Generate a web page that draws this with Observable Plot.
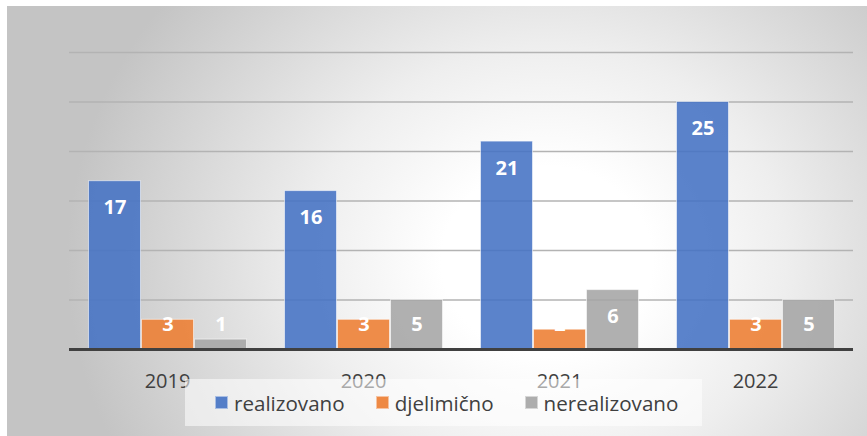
<!DOCTYPE html>
<html>
<head>
<meta charset="utf-8">
<script src="https://cdn.jsdelivr.net/npm/d3@7"></script>
<script src="https://cdn.jsdelivr.net/npm/@observablehq/plot@0.6"></script>
<style>
  html, body { margin: 0; padding: 0; background: #fff; }
  #wrap { position: relative; width: 867px; height: 436px; overflow: hidden; font-family: "Open Sans", sans-serif; }
  #panel { position: absolute; left: 7px; top: 6px; width: 860px; height: 430px;
    background: radial-gradient(ellipse 480px 430px at 540px 255px, #ffffff 0%, #ffffff 22%, #eeeeee 50%, #c4c4c4 100%); }
  #chart { position: absolute; left: 0; top: 0; }
  #legend { position: absolute; left: 185px; top: 379px; width: 517px; height: 47px;
    background: rgba(255,255,255,0.55); display: flex; align-items: center; box-sizing: border-box; padding-left: 30px; }
  .item { display: flex; align-items: center; margin-right: 31px; font-size: 20.6px; color: #404040; }
  .sw { width: 13px; height: 13px; margin-right: 6px; box-sizing: border-box; border: 1px solid rgba(255,255,255,0.5); }
</style>
</head>
<body>
<div id="wrap">
  <div id="panel"></div>
  <div id="chart"></div>
  <div id="legend"></div>
</div>
<script>
const years = ["2019", "2020", "2021", "2022"];
const series = ["realizovano", "djelimično", "nerealizovano"];
const realizovano = [17, 16, 21, 25];
const djelimicno = [3, 3, 2, 3];
const nerealizovano = [1, 5, 6, 5];
const colors = ["#4472C4", "#ED7D31", "#A5A5A5"];
const gridTicks = [5, 10, 15, 20, 25, 30];

const seriesValues = [realizovano, djelimicno, nerealizovano];
const data = years.flatMap((year, i) =>
  series.map((s, j) => ({year, series: s, value: seriesValues[j][i]}))
);

const chart = Plot.plot({
  width: 867,
  height: 436,
  marginLeft: 68,
  marginRight: 13,
  marginTop: 52,
  marginBottom: 87,
  style: {background: "transparent", fontFamily: "Open Sans, sans-serif", overflow: "visible"},
  fx: {domain: years, padding: 0, label: null},
  x: {domain: series, paddingInner: 0, paddingOuter: 0.34, axis: null},
  y: {domain: [0, 30], axis: null},
  color: {domain: series, range: colors},
  marks: [
    Plot.ruleY(gridTicks, {stroke: "#b3b3b3", strokeWidth: 1.4}),
    Plot.barY(data, {fx: "year", x: "series", y: "value", fill: "series", fillOpacity: 0.88,
      stroke: "white", strokeOpacity: 0.55, strokeWidth: 1, insetLeft: 0.5, insetRight: 0.5}),
    Plot.ruleY([0], {stroke: "#404040", strokeWidth: 3}),
    Plot.text(data, {fx: "year", x: "series", y: d => Math.max(d.value - 2.7, 2.5),
      text: d => String(d.value), fill: "white", fontWeight: "bold", fontSize: 20}),
    Plot.axisFx({anchor: "bottom", tickSize: 0, tickPadding: 24, fontSize: 20, fill: "#404040", label: null})
  ]
});
document.getElementById("chart").appendChild(chart);

const legend = document.getElementById("legend");
series.forEach((s, i) => {
  const item = document.createElement("div");
  item.className = "item";
  const sw = document.createElement("span");
  sw.className = "sw";
  sw.style.background = colors[i];
  sw.style.opacity = 0.9;
  const t = document.createElement("span");
  t.textContent = s;
  item.appendChild(sw);
  item.appendChild(t);
  legend.appendChild(item);
});
</script>
</body>
</html>
